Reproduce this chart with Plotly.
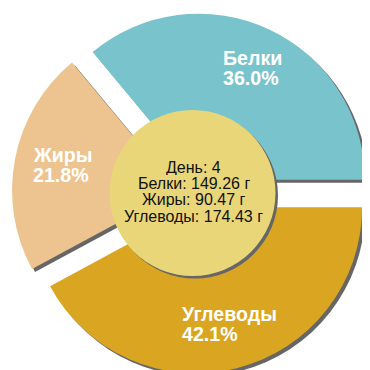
import plotly.graph_objects as go

# ---- data ----
labels = ["Белки", "Жиры", "Углеводы"]
grams = [149.26, 90.47, 174.43]
percents = ["36.0%", "21.8%", "42.1%"]
center_lines = ["День: 4", "Белки: 149.26 г", "Жиры: 90.47 г", "Углеводы: 174.43 г"]
colors = ["#79C3CC", "#EDC490", "#DAA521"]

W = H = 370
CX, CY = 184.5, 185.0      # pie centre (px, from top-left)
R = 166.0                  # pie radius (px)
PULL = 0.0886
SH = 3.0                   # shadow offset (px)
SHADOW = "#666666"


def fx(x):
    return x / W


def fy(y):
    return 1 - y / H


half = R * (1 + PULL)


def dom(dx=0.0, dy=0.0):
    return dict(x=[fx(CX - half + dx), fx(CX + half + dx)],
                y=[fy(CY + half + dy), fy(CY - half + dy)])


# clockwise from 3 o'clock: Углеводы, Жиры, Белки
order = [2, 1, 0]
common = dict(labels=[labels[i] for i in order], values=[grams[i] for i in order],
              sort=False, direction="clockwise", rotation=90, pull=[PULL] * 3,
              textinfo="none", hoverinfo="skip", showlegend=False)

fig = go.Figure()
fig.add_trace(go.Pie(domain=dom(SH, SH), marker=dict(colors=[SHADOW] * 3, line=dict(width=0)), **common))
fig.add_trace(go.Pie(domain=dom(), marker=dict(colors=[colors[i] for i in order], line=dict(width=0)), **common))

# centre disc with shadow
CR = 83.0
shapes = []
for dx, col in [(2.5, SHADOW), (0, "#E8D678")]:
    shapes.append(dict(type="circle", xref="paper", yref="paper",
                       x0=fx(CX - CR + dx), x1=fx(CX + CR + dx),
                       y0=fy(CY + CR + dx), y1=fy(CY - CR + dx),
                       fillcolor=col, line=dict(width=0), layer="above"))

annotations = []
# slice labels
label_pos = [(213, 50), (23, 147), (171.5, 305.5)]
for (x, y), name, pct in zip(label_pos, labels, percents):
    for i, t in enumerate([name, pct]):
        annotations.append(dict(text="<b>%s</b>" % t, xref="paper", yref="paper",
                                x=fx(x), y=fy(y + 20 * i), xanchor="left", yanchor="middle",
                                showarrow=False,
                                font=dict(family="Liberation Sans", size=19.6, color="white")))
# centre text
for i, t in enumerate(center_lines):
    annotations.append(dict(text=t, xref="paper", yref="paper", height=16,
                            x=fx(185.5), y=fy(159.0 + 16.2 * i), xanchor="center", yanchor="middle",
                            showarrow=False,
                            font=dict(family="Liberation Sans", size=16, color="#111111")))

fig.update_layout(width=W, height=H, margin=dict(l=0, r=0, t=0, b=0),
                  paper_bgcolor="white", plot_bgcolor="white",
                  shapes=shapes, annotations=annotations, hovermode=False)
fig.write_html("out.html")
